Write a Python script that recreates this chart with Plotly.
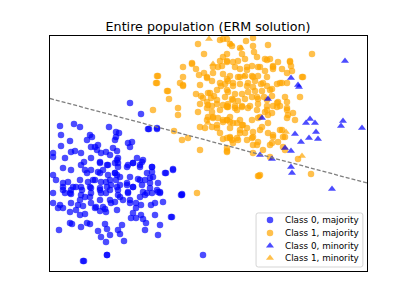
import plotly.graph_objects as go

# Values (x rightwards, y downwards in chart units)
class0_majority = [
    (130,103),(141,114),(149,129),(157,128),(203,255),(83,261),(107,255),(182,195),(172,217),(173,169),(166,173),
    (60,126),(74,124),(80,127),(109,127),(61,135),(70,141),(61,146),(53,153),(53,157),(65,158),(71,152),(75,151),
    (81,153),(84,162),(90,135),(92,137),(87,140),(91,147),(95,147),(98,145),(97,150),(101,153),(106,152),(110,155),
    (113,148),(116,132),(115,140),(91,158),(100,162),(108,165),(115,163),(63,168),(71,170),(81,165),(85,170),
    (91,170),(98,172),(103,170),(108,175),(115,173),(53,175),(56,180),(63,183),(68,182),(76,187),(81,187),(88,182),
    (95,180),(101,182),(106,182),(111,185),(116,180),(63,190),(71,190),(91,188),(100,188),(110,190),
    (119,133),(116,137),(128,143),(132,142),(130,147),(148,129),(157,129),(117,151),(118,158),(118,163),(128,165),
    (133,163),(140,165),(142,162),(152,167),(152,172),(165,173),(173,170),(117,175),(130,177),(138,179),(145,180),
    (150,178),(120,185),(127,185),(133,187),(142,185),(150,188),(158,183),(160,192),(118,190),(128,192),(143,192),
    (152,193),(182,194),
    (53,193),(65,193),(71,194),(81,195),(85,197),(91,193),(101,193),(106,193),(118,195),(128,193),(145,195),(158,192),
    (53,203),(60,205),(63,208),(58,208),(71,203),(78,205),(83,206),(76,210),(80,215),(85,214),(91,203),(96,207),
    (100,211),(105,209),(106,212),(111,203),(115,202),(123,200),(130,203),(136,203),(141,205),(136,208),(133,213),
    (131,218),(136,218),(141,215),(143,219),(151,205),(155,203),(163,202),(155,215),(146,223),(160,225),(145,230),
    (158,235),(171,217),(181,195),(70,212),(70,223),(72,224),(81,227),(87,223),(90,224),(98,231),(105,224),(107,229),
    (101,237),(110,235),(106,242),(118,230),(120,234),(122,225),(124,241),(59,230),(84,261),(107,255),
    (100,163),(107,165),(117,160),(118,167),(115,173),(120,177),(110,180),(100,173),(93,180),(87,173),(80,180),
    (90,187),(100,190),(107,187),(117,187),(127,183),(133,187),(140,180),(147,173),(140,167),(133,163),(127,167),
    (137,158),(143,160),(152,167),(153,177),(150,183),(157,190),(160,193),(147,193),(140,197),(130,200),(120,197),
    (110,200),(100,200),(90,197),(80,200),(70,193),(63,187),(73,187),(82,190),(103,207),(95,208),(117,210),
]

class1_majority = [
    (153,110),(168,91),(169,99),(156,83),(157,76),(183,67),(192,63),(198,44),(183,85),(178,108),(178,115),(174,131),
    (182,140),(200,150),(227,151),(197,193),(259,176),(311,174),(312,54),(303,77),(300,97),(290,62),(253,38),(246,41),
    (240,48),(230,44),(220,40),(298,159),(270,157),(253,137),(272,143),
    (223,39),(204,54),(192,64),(196,69),(199,75),(204,73),(207,77),(212,81),(213,67),(220,61),(223,57),(227,54),
    (218,67),(222,66),(227,62),(183,77),(180,83),(183,86),(158,76),(157,83),(167,91),(196,94),(201,96),(208,93),
    (211,98),(214,96),(217,90),(221,86),(225,84),(227,79),(223,74),(225,97),(207,102),(212,106),(217,104),(200,104),
    (223,105),(227,106),
    (227,39),(232,46),(253,46),(268,45),(254,52),(257,57),(242,54),(227,61),(233,62),(238,61),(245,59),(235,67),
    (240,69),(247,67),(252,66),(258,67),(265,59),(270,59),(278,62),(290,61),(291,66),(273,66),(273,69),(282,69),
    (292,71),(302,77),(287,83),(282,83),(277,84),(267,77),(265,71),(258,76),(252,76),(245,76),(238,77),(230,76),
    (228,81),(233,86),(240,84),(247,86),(255,81),(261,84),(267,86),(272,89),(262,91),(255,91),(248,92),(242,94),
    (235,94),(228,92),(232,99),(238,101),(245,99),(252,97),(258,99),(264,97),(272,96),(285,97),(287,102),(278,102),
    (228,104),(235,106),(242,106),(250,106),(258,104),(267,106),(273,106),(280,106),
    (228,107),(235,108),(242,107),(248,108),(257,110),(265,112),(272,113),(277,107),(287,108),(288,115),(295,120),
    (227,120),(230,122),(237,123),(242,125),(230,128),(240,130),(243,125),(252,120),(258,118),(268,115),(268,123),
    (262,127),(253,132),(245,133),(268,133),(273,135),(282,130),(285,137),(227,138),(232,140),(237,138),(238,140),
    (252,138),(258,142),(253,145),(270,145),(278,142),(285,150),(227,152),(260,175),(258,176),
    (198,112),(207,108),(212,112),(208,117),(213,118),(218,118),(223,122),(227,120),(200,127),(205,128),(212,127),
    (217,128),(223,139),(227,148),(230,138),(188,138),
    (207,120),(213,117),(217,125),(223,120),(230,117),(233,123),(240,120),(247,128),(220,133),(230,137),(240,133),
    (233,143),(247,140),(208,105),(203,98),(210,93),(200,85),(207,78),(213,73),(220,83),(227,90),(233,100),(237,110),
    (227,107),(217,100),(220,110),(260,117),(267,110),(277,103),(287,110),(293,113),(287,118),(280,130),(273,137),
    (283,137),(260,130),(257,145),(263,150),(253,153),(283,147),(267,100),(257,97),(253,87),(263,83),(270,90),
    (280,83),(287,73),(273,67),(267,60),(260,67),(247,70),(240,77),(233,83),(248,83),(253,77),
]

class0_minority = [
    (345,61),(291,78),(298,85),(299,87),(268,99),(262,118),(310,119),(306,123),(315,123),(343,121),(341,126),
    (362,128),(295,134),(316,132),(309,138),(318,139),(301,142),(285,148),(291,151),(260,155),(272,159),
    (291,167),(292,173),(332,189),
]

class1_minority = [
    (209,39),(231,44),(213,64),(241,48),(244,76),(208,123),(286,132),(302,156),
]

boundary_x = [50, 367]
boundary_y = [98.5, 183]

series_names = ["Class 0, majority", "Class 1, majority", "Class 0, minority", "Class 1, minority"]
series_colors = ["#0000ff", "#ffa500", "#0000ff", "#ffa500"]
series_symbols = ["circle", "circle", "triangle-up", "triangle-up"]
series_data = [class0_majority, class1_majority, class0_minority, class1_minority]

fig = go.Figure()
for name, color, sym, pts in zip(series_names, series_colors, series_symbols, series_data):
    fig.add_trace(go.Scatter(
        x=[p[0] for p in pts], y=[p[1] for p in pts], mode="markers", name=name,
        showlegend=False,
        marker=dict(color=color, symbol=sym, size=6.5 if sym == "circle" else 7,
                    opacity=0.7, line=dict(width=0)),
    ))

fig.add_trace(go.Scatter(
    x=boundary_x, y=boundary_y, mode="lines", showlegend=False,
    line=dict(color="#7f7f7f", width=1.3, dash="4px,2px"), hoverinfo="skip",
))

# ---- custom legend (matplotlib-like compact spacing) in paper units ----
leg_x0, leg_x1, leg_y0, leg_y1 = 0.650, 0.987, 0.017, 0.247
key_x, text_x = 0.694, 0.736
row_y = [0.217, 0.162, 0.107, 0.055]
rx, ry = 0.007, 0.009
path = (f"M {leg_x0+rx},{leg_y0} L {leg_x1-rx},{leg_y0} Q {leg_x1},{leg_y0} {leg_x1},{leg_y0+ry} "
        f"L {leg_x1},{leg_y1-ry} Q {leg_x1},{leg_y1} {leg_x1-rx},{leg_y1} "
        f"L {leg_x0+rx},{leg_y1} Q {leg_x0},{leg_y1} {leg_x0},{leg_y1-ry} "
        f"L {leg_x0},{leg_y0+ry} Q {leg_x0},{leg_y0} {leg_x0+rx},{leg_y0} Z")
fig.add_shape(type="path", path=path, xref="paper", yref="paper", layer="below",
              line=dict(color="#d5d5d5", width=1), fillcolor="rgba(255,255,255,0.8)")

for name, color, sym, yy in zip(series_names, series_colors, series_symbols, row_y):
    fig.add_trace(go.Scatter(
        x=[key_x], y=[yy], xaxis="x2", yaxis="y2", mode="markers", showlegend=False,
        hoverinfo="skip",
        marker=dict(color=color, symbol=sym, size=6.5 if sym == "circle" else 7,
                    opacity=0.7, line=dict(width=0)),
    ))
    fig.add_annotation(x=text_x, y=yy, xref="paper", yref="paper", text=name,
                       showarrow=False, xanchor="left", yanchor="middle",
                       font=dict(size=8.8, family="DejaVu Sans", color="black"))

axis_common = dict(showticklabels=False, ticks="", showgrid=False, zeroline=False,
                   showline=True, linecolor="black", linewidth=1, mirror=True)

# page has an 8px body margin: figure is sized so the plot box lands where the reference has it
fig.update_layout(
    width=399, height=297,
    margin=dict(l=42, r=40, t=28, b=34),
    paper_bgcolor="white", plot_bgcolor="white",
    font=dict(family="DejaVu Sans", color="black"),
    title=dict(text="Entire population (ERM solution)", x=(208 - 8) / 399, xanchor="center",
               y=1 - 19 / 297, yref="container", yanchor="middle",
               font=dict(size=12.7, family="DejaVu Sans", color="black")),
    xaxis=dict(range=[50, 367], **axis_common),
    yaxis=dict(range=[271, 36], **axis_common),
    xaxis2=dict(range=[0, 1], overlaying="x", visible=False),
    yaxis2=dict(range=[0, 1], overlaying="y", visible=False),
    showlegend=False,
)

fig.write_html("out.html")
